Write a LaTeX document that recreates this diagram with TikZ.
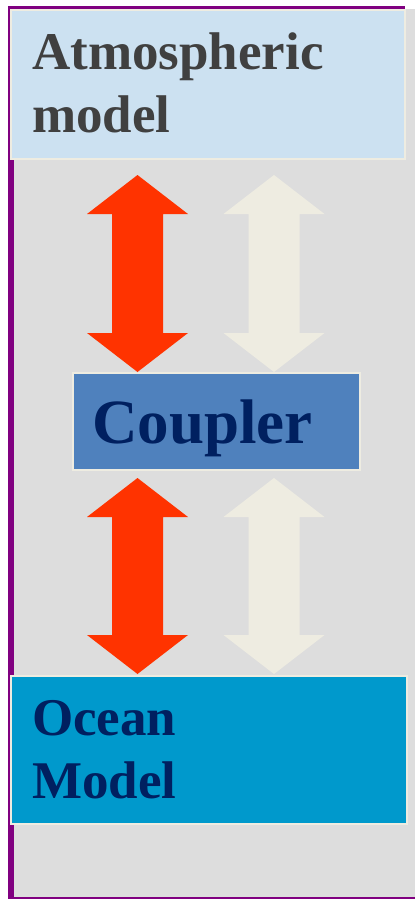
\documentclass[tikz,border=0pt]{standalone}
\usepackage{fontspec}
\setmainfont{Liberation Serif}
\definecolor{sfondo}{HTML}{DDDDDD}
\definecolor{cornice}{HTML}{800080}
\definecolor{atmosblu}{HTML}{CCE1F1}
\definecolor{testogrigio}{HTML}{404040}
\definecolor{couplerblu}{HTML}{4F81BD}
\definecolor{oceanoblu}{HTML}{0099CC}
\definecolor{testoblu}{HTML}{002060}
\definecolor{rosso}{HTML}{FF3300}
\definecolor{crema}{HTML}{EEECE1}
% freccia doppia verticale: x centro, y punta alta, y punta bassa, colore
\newcommand{\frecciona}[4]{%
	\fill[#4] (#1,#2) -- (#1+50.5,#2+39) -- (#1+25.5,#2+39)
	-- (#1+25.5,#3-39) -- (#1+50.5,#3-39) -- (#1,#3)
	-- (#1-50.5,#3-39) -- (#1-25.5,#3-39) -- (#1-25.5,#2+39)
	-- (#1-50.5,#2+39) -- cycle;}
\begin{document}
\begin{tikzpicture}[
			x=1pt, y=-1pt,
			blocco/.style={draw=crema, line width=1.5pt,
				inner sep=0pt, anchor=north west},
			etichetta/.style={anchor=base west, inner sep=0pt,
				align=left},
			]
			\useasboundingbox (0,0) rectangle (415,900);
			\fill[sfondo](14,9) rectangle (415,897);
			\fill[cornice](8,6) rectangle (14,899);
			\fill[cornice](8,5.5) rectangle (405,10);
			\fill[cornice](8,896.5) rectangle (415,899);
			
			\node[blocco, fill=atmosblu, minimum width=394pt,
				minimum height=149pt] (atmos) at (10,9){};
			\node[blocco, fill=couplerblu, minimum width=287pt,
				minimum height=97pt] (coupler) at (72,372){};
			\node[blocco, fill=oceanoblu, minimum width=396pt,
				minimum height=148pt] (oceano) at (10,675){};
			
			\frecciona{137.5}{175}{372}{rosso}
			\frecciona{274}{175}{372}{crema}
			\frecciona{137.5}{478}{674}{rosso}
			\frecciona{274}{478}{674}{crema}
			
			% ancora base = ultima riga
			\node[etichetta, text=testogrigio,
				font=\fontsize{53}{63}\selectfont\bfseries]
			(atmoslbl) at (32,132){Atmospheric\\model};
			\node[etichetta, text=testoblu,
				font=\fontsize{63}{70}\selectfont\bfseries]
			(couplerlbl) at (92,443){Coupler};
			\node[etichetta, text=testoblu,
				font=\fontsize{53}{63}\selectfont\bfseries]
			(oceanolbl) at (32,798){Ocean\\Model};
		\end{tikzpicture}
\end{document}
